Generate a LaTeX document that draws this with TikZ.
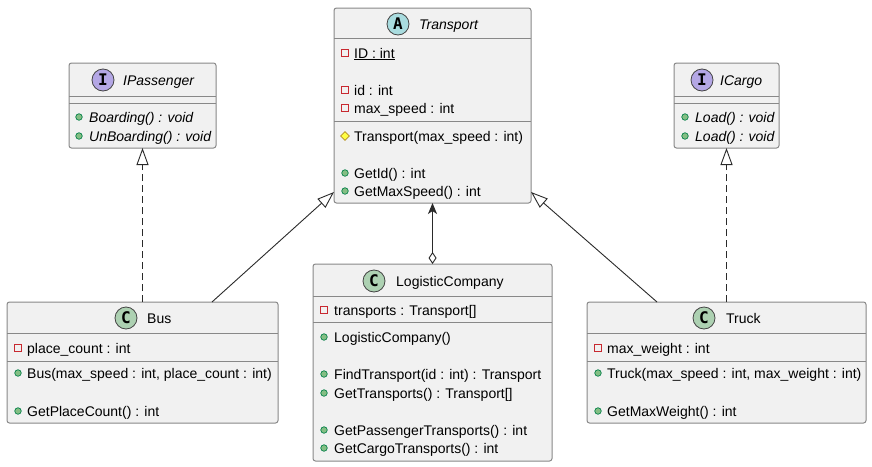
\documentclass[tikz,border=0pt]{standalone}
\usepackage{fontspec}
\setmainfont{Liberation Sans}
\newfontfamily\iconfont{DejaVu Sans Mono}
\usepackage{tikz}
\usetikzlibrary{shapes, positioning, arrows.meta, calc}

\definecolor{boxfill}{HTML}{F1F1F1}
\definecolor{boxline}{HTML}{888888}
\definecolor{iconline}{HTML}{444444}
\definecolor{linkline}{HTML}{2A2A2A}
\definecolor{absfill}{HTML}{A9DCDF}
\definecolor{classfill}{HTML}{ADD1B2}
\definecolor{intffill}{HTML}{B4A7E5}
\definecolor{pubfill}{HTML}{84BE84}
\definecolor{publine}{HTML}{038048}
\definecolor{privline}{HTML}{C82930}
\definecolor{protfill}{HTML}{FFFF44}
\definecolor{protline}{HTML}{B38D22}

\begin{document}
\begin{tikzpicture}[x=1pt, y=-1pt,
    box/.style={draw=boxline, fill=boxfill, line width=1pt, rounded corners=2.5pt, outer sep=0pt, inner sep=0pt},
    divider/.style={draw=boxline, line width=1pt},
    icon/.style={circle, draw=iconline, line width=0.8pt, minimum size=22pt, inner sep=0pt, font=\iconfont\bfseries\fontsize{16}{16}\selectfont},
    classtitle/.style={anchor=base west, inner sep=0pt, font=\fontsize{14}{16}\selectfont},
    member/.style={anchor=base west, inner sep=0pt, font=\fontsize{14}{16}\selectfont},
    pub/.style={circle, draw=publine, fill=pubfill, line width=0.7pt, minimum size=6.5pt, inner sep=0pt},
    priv/.style={rectangle, draw=privline, line width=0.8pt, minimum size=7pt, inner sep=0pt},
    prot/.style={diamond, draw=protline, fill=protfill, line width=0.6pt, minimum size=9pt, inner sep=0pt},
    link/.style={draw=linkline, line width=0.9pt},
    inherit/.style={link, -{Triangle[open, length=17pt, width=12pt]}},
    realize/.style={inherit, dash pattern=on 7pt off 4pt},
    aggr/.style={link, {Diamond[open, length=12pt, width=8pt]}-{Stealth[length=11pt, width=9pt, inset=3pt]}}]

    \fill[white] (0,0) rectangle (872,466);
    \useasboundingbox (0,0) rectangle (872,466);

    % Classes
    \node[box, minimum width=197pt, minimum height=195pt] (transport) at (432.5,105.5) {};
    \node[box, minimum width=147pt, minimum height=85pt]  (ipassenger) at (142.5,105.5) {};
    \node[box, minimum width=105pt, minimum height=85pt]  (icargo) at (726.5,105.5) {};
    \node[box, minimum width=271pt, minimum height=121pt] (bus) at (142.5,362.5) {};
    \node[box, minimum width=239pt, minimum height=197pt] (logisticcompany) at (432.5,362.5) {};
    \node[box, minimum width=279pt, minimum height=121pt] (truck) at (726.5,362.5) {};

    % Compartment lines
    \draw[divider] ($(transport.north west)+(0,30)$) -- ($(transport.north east)+(0,30)$);
    \draw[divider] ($(transport.north west)+(0,113)$) -- ($(transport.north east)+(0,113)$);
    \draw[divider] ($(ipassenger.north west)+(0,33)$) -- ($(ipassenger.north east)+(0,33)$);
    \draw[divider] ($(ipassenger.north west)+(0,40)$) -- ($(ipassenger.north east)+(0,40)$);
    \draw[divider] ($(icargo.north west)+(0,33)$) -- ($(icargo.north east)+(0,33)$);
    \draw[divider] ($(icargo.north west)+(0,40)$) -- ($(icargo.north east)+(0,40)$);
    \draw[divider] ($(bus.north west)+(0,31)$) -- ($(bus.north east)+(0,31)$);
    \draw[divider] ($(bus.north west)+(0,59)$) -- ($(bus.north east)+(0,59)$);
    \draw[divider] ($(logisticcompany.north west)+(0,32)$) -- ($(logisticcompany.north east)+(0,32)$);
    \draw[divider] ($(logisticcompany.north west)+(0,58)$) -- ($(logisticcompany.north east)+(0,58)$);
    \draw[divider] ($(truck.north west)+(0,31)$) -- ($(truck.north east)+(0,31)$);
    \draw[divider] ($(truck.north west)+(0,59)$) -- ($(truck.north east)+(0,59)$);

    % Headers
    \node[icon, fill=absfill]   (transport-icon) at (398,24) {A};
    \node[classtitle] (transport-title) at (419,29) {\itshape Transport};
    \node[icon, fill=intffill]  (ipassenger-icon) at (103,80) {I};
    \node[classtitle] (ipassenger-title) at (123,85) {\itshape IPassenger};
    \node[icon, fill=intffill]  (icargo-icon) at (702,80) {I};
    \node[classtitle] (icargo-title) at (720,85) {\itshape ICargo};
    \node[icon, fill=classfill] (bus-icon) at (126,318) {C};
    \node[classtitle] (bus-title) at (147,323) {Bus};
    \node[icon, fill=classfill] (logisticcompany-icon) at (374,281) {C};
    \node[classtitle] (logisticcompany-title) at (396,286) {LogisticCompany};
    \node[icon, fill=classfill] (truck-icon) at (704,318) {C};
    \node[classtitle] (truck-title) at (726,323) {Truck};

    % Transport members
    \node[priv] (t-m1) at (345,53)  {}; \node[member] (t-1) at (354,58)  {\underline{ID : int}};
    \node[priv] (t-m2) at (345,90)  {}; \node[member] (t-2) at (354,95)  {id : int};
    \node[priv] (t-m3) at (345,108) {}; \node[member] (t-3) at (354,113) {max\_speed : int};
    \node[prot] (t-m4) at (345,136) {}; \node[member] (t-4) at (354,141) {Transport(max\_speed : int)};
    \node[pub]  (t-m5) at (345,173) {}; \node[member] (t-5) at (354,178) {GetId() : int};
    \node[pub]  (t-m6) at (345,191) {}; \node[member] (t-6) at (354,196) {GetMaxSpeed() : int};

    % Interface members
    \node[pub] (ip-m1) at (79,117) {}; \node[member] (ip-1) at (89,122) {\itshape Boarding() : void};
    \node[pub] (ip-m2) at (79,136) {}; \node[member] (ip-2) at (89,141) {\itshape UnBoarding() : void};
    \node[pub] (ic-m1) at (685,117) {}; \node[member] (ic-1) at (695,122) {\itshape Load() : void};
    \node[pub] (ic-m2) at (685,136) {}; \node[member] (ic-2) at (695,141) {\itshape Load() : void};

    % Bus members
    \node[priv] (b-m1) at (18,348) {}; \node[member] (b-1) at (27,353) {place\_count : int};
    \node[pub]  (b-m2) at (18,373) {}; \node[member] (b-2) at (27,378) {Bus(max\_speed : int, place\_count : int)};
    \node[pub]  (b-m3) at (18,411) {}; \node[member] (b-3) at (27,416) {GetPlaceCount() : int};

    % LogisticCompany members
    \node[priv] (lc-m1) at (324,310) {}; \node[member] (lc-1) at (334,315) {transports : Transport[]};
    \node[pub]  (lc-m2) at (324,337) {}; \node[member] (lc-2) at (334,342) {LogisticCompany()};
    \node[pub]  (lc-m3) at (324,374) {}; \node[member] (lc-3) at (334,379) {FindTransport(id : int) : Transport};
    \node[pub]  (lc-m4) at (324,393) {}; \node[member] (lc-4) at (334,398) {GetTransports() : Transport[]};
    \node[pub]  (lc-m5) at (324,430) {}; \node[member] (lc-5) at (334,435) {GetPassengerTransports() : int};
    \node[pub]  (lc-m6) at (324,448) {}; \node[member] (lc-6) at (334,453) {GetCargoTransports() : int};

    % Truck members
    \node[priv] (tr-m1) at (598,348) {}; \node[member] (tr-1) at (607,353) {max\_weight : int};
    \node[pub]  (tr-m2) at (598,373) {}; \node[member] (tr-2) at (607,378) {Truck(max\_speed : int, max\_weight : int)};
    \node[pub]  (tr-m3) at (598,411) {}; \node[member] (tr-3) at (607,416) {GetMaxWeight() : int};

    % Relations
    \draw[realize] (bus) -- (ipassenger); \draw[realize] (truck) -- (icargo);
    \draw[inherit] ($(bus.north)+(69.5,0)$) -- ($(transport.south west)+(0,-11)$);
    \draw[inherit] ($(truck.north)+(-69.5,0)$) -- ($(transport.south east)+(0,-11)$);
    \draw[aggr] (logisticcompany) -- (transport);

\end{tikzpicture}
\end{document}
